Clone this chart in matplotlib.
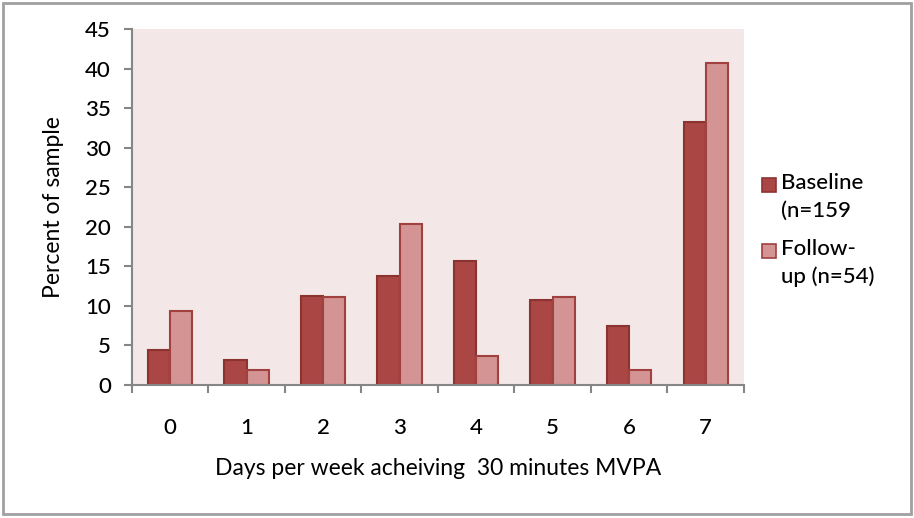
import matplotlib.pyplot as plt
import numpy as np
from matplotlib.patches import Rectangle

days = ['0', '1', '2', '3', '4', '5', '6', '7']
baseline = [4.4, 3.1, 11.3, 13.8, 15.7, 10.7, 7.5, 33.3]
follow_up = [9.3, 1.9, 11.1, 20.4, 3.7, 11.1, 1.9, 40.7]
series_labels = ['Baseline\n(n=159', 'Follow-\nup (n=54)']
fills = ['#AA4644', '#D49494']
edges = ['#8B3331', '#A0403F']

plt.rcParams['font.family'] = ['Lato', 'DejaVu Sans']
plt.rcParams['font.weight'] = 'medium'
AXIS_GREY = '#868686'

fig = plt.figure(figsize=(9.14, 5.18), dpi=100)
# grey frame around the whole chart
fig.patches.append(Rectangle((0.003, 0.008), 0.994, 0.986, transform=fig.transFigure,
                             fill=False, edgecolor='#A0A0A0', linewidth=2))

ax = fig.add_axes([0.1441, 0.2568, 0.6699, 0.6873])
ax.set_facecolor('#F3E7E7')

x = np.arange(len(days))
w = 0.29
ax.bar(x - w / 2, baseline, w, color=fills[0], edgecolor=edges[0], linewidth=1.5)
ax.bar(x + w / 2, follow_up, w, color=fills[1], edgecolor=edges[1], linewidth=1.5)

ax.set_xlim(-0.5, 7.5)
ax.set_ylim(0, 45)
ax.set_yticks(range(0, 46, 5))
ax.set_xticks(x)
ax.set_xticklabels(days)
ax.set_xticks(np.arange(-0.5, 8, 1), minor=True)
ax.tick_params(axis='x', which='major', length=0, pad=24, labelsize=16)
ax.tick_params(axis='x', which='minor', length=6, color=AXIS_GREY, width=1.5)
ax.tick_params(axis='y', length=6, color=AXIS_GREY, width=1.5, pad=9, labelsize=16)
for side in ['top', 'right']:
    ax.spines[side].set_visible(False)
for side in ['left', 'bottom']:
    ax.spines[side].set_color(AXIS_GREY)
    ax.spines[side].set_linewidth(1.5)

ax.set_xlabel('Days per week acheiving  30 minutes MVPA', fontsize=16.5)
ax.xaxis.set_label_coords(0.5, -0.205)
ax.set_ylabel('Percent of sample', fontsize=16.5)
ax.yaxis.set_label_coords(-0.11, 0.5)

# legend drawn by hand so the swatch sits beside the first line of each label
for i, label in enumerate(series_labels):
    top = [0.6564, 0.5290][i]
    fig.patches.append(Rectangle((0.8337, top - 0.027), 0.0153, 0.027,
                                 transform=fig.transFigure, facecolor=fills[i],
                                 edgecolor=edges[i], linewidth=1.2))
    fig.text(0.8545, top + 0.009, label, fontsize=16, va='top', ha='left',
             linespacing=1.45)

fig.savefig('out.png', dpi=100)
